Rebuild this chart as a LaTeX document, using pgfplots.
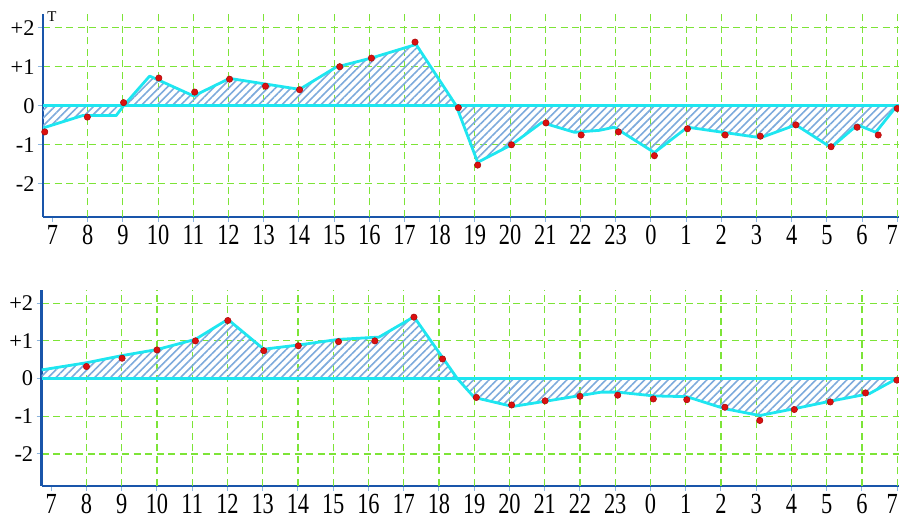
\documentclass[border=0pt]{standalone}
\usepackage{pgfplots}
\pgfplotsset{compat=1.18}
\usepackage{graphicx}
\usepackage{fontspec}
\setmainfont{Liberation Serif}
\usetikzlibrary{patterns.meta}

\definecolor{axblue}{RGB}{25,85,170}
\definecolor{gridgreen}{RGB}{125,228,55}
\definecolor{cyanline}{RGB}{30,230,240}
\definecolor{hatch}{RGB}{125,170,220}
\definecolor{dotred}{RGB}{220,15,15}
\definecolor{tickblue}{RGB}{140,180,220}

\newcommand\sx[1]{\scalebox{1}[1.3]{#1}}

\pgfplotsset{panel/.style={
  scale only axis, width=856bp, height=203bp,
  xmin=-0.27, xmax=24.05, ymin=-2.85, ymax=2.35,
  axis lines=left, axis line style={-, draw=axblue, line width=2.5bp},
  xtick={0,...,24},
  xticklabels={\sx{7},\sx{8},\sx{9},\sx{10},\sx{11},\sx{12},\sx{13},\sx{14},\sx{15},\sx{16},\sx{17},\sx{18},\sx{19},\sx{20},\sx{21},\sx{22},\sx{23},\sx{0},\sx{1},\sx{2},\sx{3},\sx{4},\sx{5},\sx{6},\sx{7\kern10bp}},
  ytick={-2,-1,0,1,2}, yticklabels={-2,-1,0,+1,+2},
  ymajorgrids,
  extra x ticks={1,...,24}, extra x tick labels={},
  extra x tick style={grid=major, major tick length=0pt},
  grid style={gridgreen, dash pattern=on 7bp off 4.5bp, line width=1.1bp},
  tick style={tickblue, line width=1bp}, major tick length=5bp, tick align=outside,
  tick label style={font=\fontsize{22.5}{23}\selectfont, text=black},
  fillst/.style={draw=none, pattern={Lines[angle=45,distance=5.5bp,line width=1.6bp]}, pattern color=hatch},
  linest/.style={cyanline, line width=2.8bp, line join=round},
  dotst/.style={only marks, mark=*, mark size=3.2bp, mark options={fill=dotred, draw=dotred!75!black, line width=0.5bp}},
}}

\begin{document}
\begin{tikzpicture}
\useasboundingbox (0,0) rectangle (899bp,519bp);
% top panel
\begin{axis}[panel, at={(43bp,302bp)}, anchor=south west]
\addplot[fillst] coordinates {(-0.27,-0.57) (0.86,-0.25) (1.81,-0.25) (2.02,0) (2.76,0.76) (4.01,0.25) (5.03,0.70) (7.02,0.42) (8.06,0.99) (9.05,1.22) (10.33,1.57) (11.47,0) (12.08,-1.45) (13.04,-1.0) (13.90,-0.43) (14.83,-0.68) (15.54,-0.63) (15.96,-0.55) (17.10,-1.2) (18.04,-0.55) (20.12,-0.82) (21.12,-0.49) (22.12,-1.07) (22.87,-0.49) (23.39,-0.68) (23.99,0)} \closedcycle;
\addplot[linest] coordinates {(-0.27,0) (24.05,0)};
\addplot[linest] coordinates {(-0.27,-0.57) (0.86,-0.25) (1.81,-0.25) (2.02,0) (2.76,0.76) (4.01,0.25) (5.03,0.70) (7.02,0.42) (8.06,0.99) (9.05,1.22) (10.33,1.57) (11.47,0) (12.08,-1.45) (13.04,-1.0) (13.90,-0.43) (14.83,-0.68) (15.54,-0.63) (15.96,-0.55) (17.10,-1.2) (18.04,-0.55) (20.12,-0.82) (21.12,-0.49) (22.12,-1.07) (22.87,-0.49) (23.39,-0.68) (23.99,0)};
\addplot[dotst] coordinates {(-0.22,-0.67) (0.99,-0.29) (2.02,0.08) (3.02,0.71) (4.04,0.35) (5.03,0.68) (6.05,0.5) (7.02,0.41) (8.16,1.0) (9.06,1.22) (10.30,1.63) (11.53,-0.05) (12.08,-1.52) (13.04,-1.0) (14.02,-0.44) (15.02,-0.75) (16.08,-0.67) (17.10,-1.28) (18.04,-0.59) (19.11,-0.75) (20.11,-0.78) (21.12,-0.49) (22.12,-1.05) (22.86,-0.55) (23.46,-0.75) (24.0,-0.07)};
\end{axis}
\node[font=\fontsize{15}{15}\selectfont, inner sep=0pt] at (52bp,502.5bp) {T};
% bottom panel
\begin{axis}[panel, at={(41.7bp,33bp)}, anchor=south west, width=857.3bp, height=196bp]
\addplot[fillst] coordinates {(-0.27,0.23) (1.0,0.42) (2.01,0.61) (3.0,0.77) (4.09,1.04) (5.01,1.57) (6.03,0.78) (7.01,0.89) (8.15,1.04) (9.3,1.1) (10.29,1.64) (11.52,0) (12.0,-0.5) (13.09,-0.74) (14.03,-0.6) (15.6,-0.36) (16.07,-0.36) (17.1,-0.46) (18.03,-0.48) (19.11,-0.80) (20.1,-0.98) (21.08,-0.80) (22.1,-0.60) (23.21,-0.40) (23.99,0)} \closedcycle;
\addplot[linest] coordinates {(-0.27,0) (24.05,0)};
\addplot[linest] coordinates {(-0.27,0.23) (1.0,0.42) (2.01,0.61) (3.0,0.77) (4.09,1.04) (5.01,1.57) (6.03,0.78) (7.01,0.89) (8.15,1.04) (9.3,1.1) (10.29,1.64) (11.52,0) (12.0,-0.5) (13.09,-0.74) (14.03,-0.6) (15.6,-0.36) (16.07,-0.36) (17.1,-0.46) (18.03,-0.48) (19.11,-0.80) (20.1,-0.98) (21.08,-0.80) (22.1,-0.60) (23.21,-0.40) (23.99,0)};
\addplot[dotst] coordinates {(-0.29,0.24) (1.0,0.32) (2.01,0.54) (3.0,0.76) (4.09,1.0) (5.01,1.54) (6.03,0.74) (7.01,0.87) (8.15,0.98) (9.18,1.0) (10.29,1.63) (11.1,0.52) (12.06,-0.50) (13.06,-0.70) (14.01,-0.59) (15.0,-0.47) (16.07,-0.44) (17.08,-0.54) (18.03,-0.56) (19.11,-0.76) (20.1,-1.11) (21.08,-0.82) (22.1,-0.62) (23.1,-0.38) (23.99,-0.04)};
\end{axis}
\end{tikzpicture}
\end{document}
